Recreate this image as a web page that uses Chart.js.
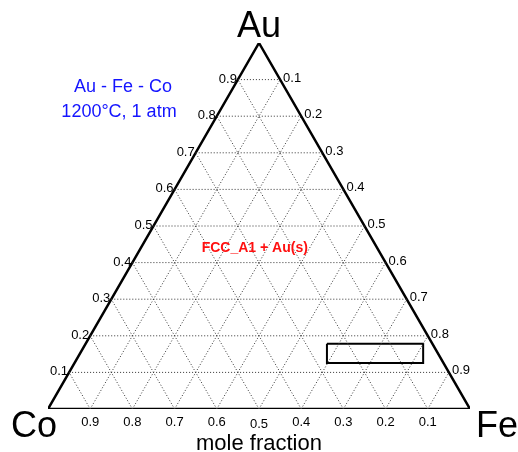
<!DOCTYPE html>
<html>
<head>
<meta charset="utf-8">
<script src="https://cdn.jsdelivr.net/npm/chart.js@4/dist/chart.umd.min.js"></script>
<style>
  html, body { margin: 0; padding: 0; background: #fff; }
  canvas { display: block; }
</style>
</head>
<body>
<canvas id="ternary" width="518" height="452"></canvas>
<script>
// Ternary grid levels and tick labels
const levels = [0.1, 0.2, 0.3, 0.4, 0.5, 0.6, 0.7, 0.8, 0.9];
const auTickLabels = ['0.1', '0.2', '0.3', '0.4', '0.5', '0.6', '0.7', '0.8', '0.9'];
const feTickLabels = ['0.1', '0.2', '0.3', '0.4', '0.5', '0.6', '0.7', '0.8', '0.9'];
const coTickLabels = ['0.1', '0.2', '0.3', '0.4', '0.5', '0.6', '0.7', '0.8', '0.9'];
const vertexNames = ['Au', 'Fe', 'Co'];
const titleLines = ['Au - Fe - Co', '1200°C, 1 atm'];
const axisTitle = 'mole fraction';

// Phase region label (composition as Au, Fe fractions)
const phaseLabel = 'FCC_A1 + Au(s)';
const phaseLabelAt = { au: 0.44, fe: 0.27 };

// Highlighted box corners (Au, Fe fractions)
const boxAu = [0.178, 0.178, 0.126, 0.126, 0.178];
const boxFe = [0.572, 0.800, 0.826, 0.598, 0.572];

const H = Math.sqrt(3) / 2;
const FONT = '"Liberation Sans", Arial, sans-serif';

// Convert Au / Fe fractions to cartesian (Co at origin, Fe at x=1, Au at top)
function toXY(au, fe) {
  return { x: fe + au / 2, y: au * H };
}

function lineDataset(points, opts) {
  return Object.assign({
    data: points,
    showLine: true,
    pointRadius: 0,
    borderColor: '#000',
    borderWidth: 1,
    fill: false,
    tension: 0
  }, opts);
}

// Build grid lines
const datasets = [];
const gridStyle = { borderColor: '#333', borderWidth: 1, borderDash: [1, 2] };
levels.forEach(v => {
  // constant Au
  datasets.push(lineDataset([toXY(v, 0), toXY(v, 1 - v)], gridStyle));
  // constant Fe
  datasets.push(lineDataset([toXY(0, v), toXY(1 - v, v)], gridStyle));
  // constant Co
  datasets.push(lineDataset([toXY(0, 1 - v), toXY(1 - v, 0)], gridStyle));
});

// Triangle outline
datasets.push(lineDataset([toXY(0, 0), toXY(0, 1), toXY(1, 0), toXY(0, 0)], { borderWidth: 2.5 }));

// Box
datasets.push(lineDataset(boxAu.map((a, i) => toXY(a, boxFe[i])), { borderWidth: 2 }));

// Text labels plugin
const labelsPlugin = {
  id: 'ternaryLabels',
  afterDraw(chart) {
    const ctx = chart.ctx;
    const sx = chart.scales.x;
    const sy = chart.scales.y;
    const px = p => ({ x: sx.getPixelForValue(p.x), y: sy.getPixelForValue(p.y) });
    ctx.save();
    ctx.fillStyle = '#000';

    // tick labels
    ctx.font = '13px ' + FONT;
    levels.forEach((v, i) => {
      // Au on left edge
      let p = px(toXY(v, 0));
      ctx.textAlign = 'right';
      ctx.textBaseline = 'alphabetic';
      ctx.fillText(auTickLabels[i], p.x - 1, p.y + 3);
      // Fe on right edge
      p = px(toXY(1 - v, v));
      ctx.textAlign = 'left';
      ctx.fillText(feTickLabels[i], p.x + 3, p.y + 2);
      // Co on bottom edge
      p = px(toXY(0, 1 - v));
      ctx.textAlign = 'center';
      ctx.textBaseline = 'top';
      ctx.fillText(coTickLabels[i], p.x, p.y + (v === 0.5 ? 9 : 7));
    });

    // vertex names
    ctx.font = '36px ' + FONT;
    ctx.textBaseline = 'alphabetic';
    let p = px(toXY(1, 0));
    ctx.textAlign = 'center';
    ctx.fillText(vertexNames[0], p.x, p.y - 6);
    p = px(toXY(0, 1));
    ctx.textAlign = 'left';
    ctx.fillText(vertexNames[1], p.x + 6, p.y + 28);
    p = px(toXY(0, 0));
    ctx.textAlign = 'right';
    ctx.fillText(vertexNames[2], p.x + 9, p.y + 28);

    // axis title
    ctx.font = '22px ' + FONT;
    ctx.textAlign = 'center';
    ctx.fillText(axisTitle, px(toXY(0, 0.5)).x, p.y + 41);

    // title
    ctx.fillStyle = '#1414ff';
    ctx.font = '18px ' + FONT;
    ctx.fillText(titleLines[0], 123, 92);
    ctx.fillText(titleLines[1], 119, 117);

    // phase label
    ctx.fillStyle = '#ff1010';
    ctx.font = 'bold 14px ' + FONT;
    ctx.textBaseline = 'middle';
    p = px(toXY(phaseLabelAt.au, phaseLabelAt.fe));
    ctx.fillText(phaseLabel, p.x, p.y);

    ctx.restore();
  }
};

new Chart(document.getElementById('ternary'), {
  type: 'scatter',
  data: { datasets },
  options: {
    responsive: false,
    animation: false,
    layout: { padding: { left: 48, right: 48, top: 43, bottom: 43 } },
    plugins: { legend: { display: false }, tooltip: { enabled: false } },
    scales: {
      x: { type: 'linear', min: 0, max: 1, display: false },
      y: { type: 'linear', min: 0, max: H, display: false }
    }
  },
  plugins: [labelsPlugin]
});
</script>
</body>
</html>
